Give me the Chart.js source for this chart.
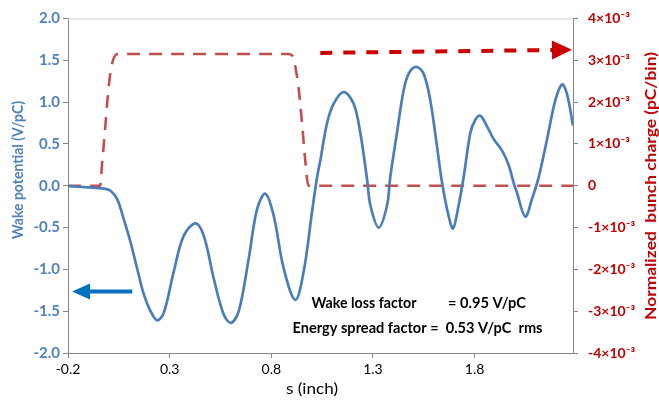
<!DOCTYPE html>
<html><head><meta charset="utf-8">
<script src="https://cdn.jsdelivr.net/npm/chart.js@4/dist/chart.umd.min.js"></script>
<style>html,body{margin:0;padding:0;background:#fff;}</style>
</head><body>
<canvas id="c" width="659" height="402"></canvas>
<script>
// ---- data ----
const sWake = [-0.2, -0.1, -0.024, 0.009, 0.042, 0.074, 0.107, 0.140, 0.173, 0.206, 0.239, 0.271, 0.320, 0.369, 0.427, 0.468, 0.517, 0.566, 0.602, 0.640, 0.689, 0.730, 0.771, 0.812, 0.861, 0.918, 0.959, 1.001, 1.025, 1.041, 1.074, 1.107, 1.156, 1.205, 1.238, 1.271, 1.288, 1.328, 1.369, 1.385, 1.418, 1.451, 1.476, 1.513, 1.549, 1.582, 1.615, 1.640, 1.672, 1.694, 1.721, 1.746, 1.779, 1.803, 1.828, 1.861, 1.893, 1.935, 1.967, 1.992, 2.008, 2.049, 2.082, 2.115, 2.156, 2.197, 2.230, 2.254, 2.284];
const wakePotential = [-0.005, -0.02, -0.035, -0.06, -0.16, -0.40, -0.67, -0.99, -1.30, -1.50, -1.61, -1.52, -1.03, -0.60, -0.45, -0.60, -1.11, -1.54, -1.64, -1.50, -0.87, -0.28, -0.095, -0.36, -0.99, -1.365, -1.03, -0.30, 0.10, 0.30, 0.745, 0.98, 1.12, 0.98, 0.63, 0.075, -0.24, -0.50, -0.24, 0.10, 0.63, 1.14, 1.34, 1.42, 1.34, 1.02, 0.47, 0.035, -0.36, -0.51, -0.24, 0.10, 0.63, 0.785, 0.837, 0.71, 0.56, 0.42, 0.25, 0.035, -0.08, -0.37, -0.16, 0.10, 0.55, 1.02, 1.21, 1.10, 0.72];

const sCharge = [-0.2, -0.1, -0.042, -0.032, -0.023, -0.015, -0.007, 0.002, 0.012, 0.025, 0.045, 0.885, 0.905, 0.918, 0.935, 0.951, 0.968, 0.982, 1.0, 2.284];
const bunchCharge = [0, 0, 0, 0.55e-3, 1.05e-3, 1.5e-3, 2.0e-3, 2.45e-3, 2.8e-3, 3.05e-3, 3.15e-3, 3.15e-3, 3.1e-3, 2.85e-3, 2.3e-3, 1.5e-3, 0.55e-3, 0, 0, 0];

const xTicks = [-0.2, 0.3, 0.8, 1.3, 1.8];
const xTickLabels = ['-0.2', '0.3', '0.8', '1.3', '1.8'];
const leftTicks = [-2, -1.5, -1, -0.5, 0, 0.5, 1, 1.5, 2];
const leftTickLabels = ['-2.0', '-1.5', '-1.0', '-0.5', '0.0', '0.5', '1.0', '1.5', '2.0'];
const rightTicks = [-4e-3, -3e-3, -2e-3, -1e-3, 0, 1e-3, 2e-3, 3e-3, 4e-3];
const rightTickLabels = ['-4×10⁻³', '-3×10⁻³', '-2×10⁻³', '-1×10⁻³', '0', '1×10⁻³', '2×10⁻³', '3×10⁻³', '4×10⁻³'];

const xTitle = 's (inch)';
const leftTitle = 'Wake potential (V/pC)';
const rightTitle = 'Normalized  bunch charge (pC/bin)';
const noteLine1a = 'Wake loss factor';
const noteLine1b = '= 0.95 V/pC';
const noteLine2 = 'Energy spread factor =  0.53 V/pC  rms';

// arrow annotations in data coordinates [s, value]
const wakeArrowFrom = [0.116, -1.266];
const wakeArrowTo = [-0.18, -1.266];
const chargeArrowFrom = [1.041, 3.175e-3];
const chargeArrowTo = [2.279, 3.25e-3];

// ---- styles ----
const BLUE_LINE = '#4a7ebb';
const BLUE_TEXT = '#4f81bd';
const RED_LINE = '#c0504d';
const RED_TEXT = '#c00000';
const AXIS = '#868686';
const FONT = 'Lato, "Liberation Sans", sans-serif';

// draw text at a given size, squeezed horizontally to a measured width
function drawText(ctx, text, x, y, weight, size, width, align, rot) {
  ctx.save();
  ctx.font = weight + ' ' + size + 'px ' + FONT;
  const sx = width / ctx.measureText(text).width;
  ctx.translate(x, y);
  if (rot) ctx.rotate(rot);
  ctx.scale(sx, 1);
  ctx.textAlign = align;
  ctx.textBaseline = 'middle';
  ctx.fillText(text, 0, 0);
  ctx.restore();
}

function arrow(ctx, x1, y1, x2, y2, color, width, headLen, headHalf, dash) {
  const ang = Math.atan2(y2 - y1, x2 - x1);
  const bx = x2 - headLen * Math.cos(ang), by = y2 - headLen * Math.sin(ang);
  ctx.save();
  ctx.strokeStyle = color; ctx.fillStyle = color; ctx.lineWidth = width;
  ctx.setLineDash(dash || []);
  ctx.beginPath(); ctx.moveTo(x1, y1); ctx.lineTo(bx, by); ctx.stroke();
  ctx.setLineDash([]);
  ctx.beginPath();
  ctx.moveTo(x2, y2);
  ctx.lineTo(bx + headHalf * Math.sin(ang), by - headHalf * Math.cos(ang));
  ctx.lineTo(bx - headHalf * Math.sin(ang), by + headHalf * Math.cos(ang));
  ctx.closePath(); ctx.fill();
  ctx.restore();
}

const decor = {
  id: 'decor',
  afterDatasetsDraw(chart) {
    const ctx = chart.ctx, a = chart.chartArea;
    const X = chart.scales.x, Y = chart.scales.y, Y1 = chart.scales.y1;
    ctx.save();
    ctx.strokeStyle = '#d0d0d0'; ctx.lineWidth = 1;
    ctx.beginPath(); ctx.moveTo(a.left, a.top + 0.5); ctx.lineTo(a.right, a.top + 0.5); ctx.stroke();
    ctx.restore();
    arrow(ctx, X.getPixelForValue(wakeArrowFrom[0]), Y.getPixelForValue(wakeArrowFrom[1]),
      X.getPixelForValue(wakeArrowTo[0]), Y.getPixelForValue(wakeArrowTo[1]), '#0070c0', 4, 18, 8);
    arrow(ctx, X.getPixelForValue(chargeArrowFrom[0]), Y1.getPixelForValue(chargeArrowFrom[1]),
      X.getPixelForValue(chargeArrowTo[0]), Y1.getPixelForValue(chargeArrowTo[1]), '#cc0000', 4, 20, 9.5, [12, 11]);
  },
  afterDraw(chart) {
    const ctx = chart.ctx;
    ctx.save();
    ctx.fillStyle = '#000';
    drawText(ctx, noteLine1a, 311.5, 303, 'bold', 14.5, 105, 'left');
    drawText(ctx, noteLine1b, 448, 303, 'bold', 14.5, 78, 'left');
    drawText(ctx, noteLine2, 292.5, 328, 'bold', 14.5, 250, 'left');
    drawText(ctx, xTitle, 312, 389, 'normal', 15.5, 52, 'center');
    ctx.fillStyle = BLUE_TEXT;
    drawText(ctx, leftTitle, 18, 170, 'bold', 16, 138, 'center', -Math.PI / 2);
    ctx.fillStyle = RED_TEXT;
    drawText(ctx, rightTitle, 651, 186, 'bold', 15.5, 268, 'center', -Math.PI / 2);
    ctx.restore();
  }
};

const axisGrid = { display: true, drawOnChartArea: false, drawTicks: true, tickLength: 5, color: AXIS };

new Chart(document.getElementById('c'), {
  type: 'scatter',
  data: {
    datasets: [
      {
        label: 'Wake potential',
        data: sWake.map((s, i) => ({ x: s, y: wakePotential[i] })),
        showLine: true, borderColor: BLUE_LINE, borderWidth: 2.7, pointRadius: 0,
        tension: 0.35, yAxisID: 'y', order: 1
      },
      {
        label: 'Bunch charge',
        data: sCharge.map((s, i) => ({ x: s, y: bunchCharge[i] })),
        showLine: true, borderColor: RED_LINE, borderWidth: 2.6, borderDash: [13, 9], pointRadius: 0,
        cubicInterpolationMode: 'monotone', yAxisID: 'y1', order: 2
      }
    ]
  },
  options: {
    responsive: false, animation: false, devicePixelRatio: 1,
    layout: { padding: { left: 0, right: 0, top: 15, bottom: 0 } },
    plugins: { legend: { display: false }, tooltip: { enabled: false } },
    scales: {
      x: {
        type: 'linear', min: -0.2, max: 2.284,
        afterBuildTicks: s => { s.ticks = xTicks.map(v => ({ value: v })); },
        afterFit: s => { s.height = 49; },
        ticks: { callback: (v, i) => xTickLabels[i], color: '#000', padding: 3, maxRotation: 0,
          font: { family: FONT, size: 14 } },
        grid: axisGrid, border: { display: true, color: AXIS }
      },
      y: {
        type: 'linear', position: 'left', min: -2, max: 2,
        afterBuildTicks: s => { s.ticks = leftTicks.map(v => ({ value: v })); },
        afterFit: s => { s.width = 68; },
        ticks: { callback: (v, i) => leftTickLabels[i], color: BLUE_TEXT, padding: 3,
          font: { family: FONT, size: 15, weight: 'bold' } },
        grid: axisGrid, border: { display: true, color: AXIS }
      },
      y1: {
        type: 'linear', position: 'right', min: -4e-3, max: 4e-3,
        afterBuildTicks: s => { s.ticks = rightTicks.map(v => ({ value: v })); },
        afterFit: s => { s.width = 86; },
        ticks: { callback: (v, i) => rightTickLabels[i], color: RED_TEXT, padding: 10,
          font: { family: FONT, size: 14, weight: 'bold' } },
        grid: axisGrid, border: { display: true, color: AXIS }
      }
    }
  },
  plugins: [decor]
});
</script>
</body></html>
